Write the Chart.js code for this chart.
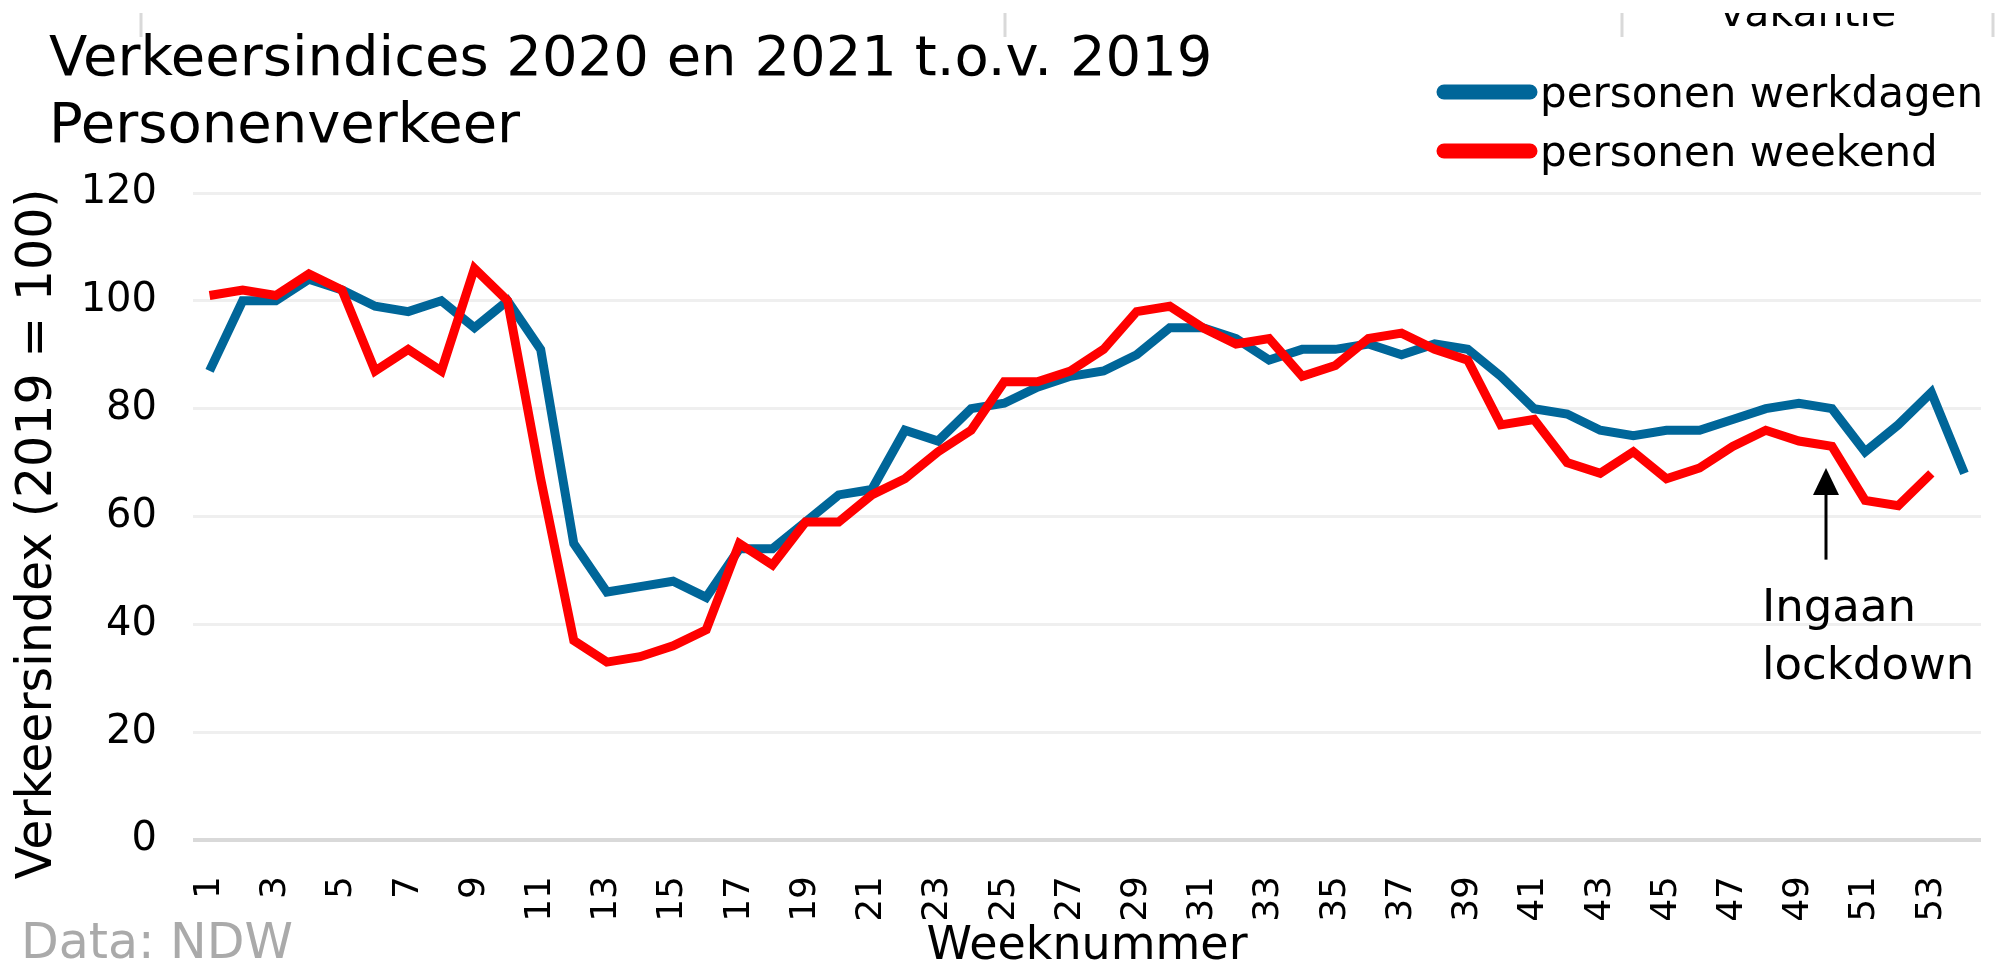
<!DOCTYPE html>
<html>
<head>
<meta charset="utf-8">
<title>Verkeersindices 2020 en 2021</title>
<script src="https://cdn.jsdelivr.net/npm/chart.js@4.4.1/dist/chart.umd.min.js"></script>
<style>
  html, body { margin: 0; padding: 0; background: #fff; }
  #chart { display: block; }
</style>
</head>
<body>
<canvas id="chart" width="1995" height="977"></canvas>
<script>
/* Verkeersindices personenverkeer, 2019 = 100 */
const weeks = [1,2,3,4,5,6,7,8,9,10,11,12,13,14,15,16,17,18,19,20,21,22,23,24,25,26,27,
  28,29,30,31,32,33,34,35,36,37,38,39,40,41,42,43,44,45,46,47,48,49,50,51,52,53,54];
const werkdagen = [87,100,100,104,102,99,98,100,95,100,91,55,46,47,48,45,54,54,59,64,65,76,74,80,81,84,86,
  87,90,95,95,93,89,91,91,92,90,92,91,86,80,79,76,75,76,76,78,80,81,80,72,77,83,68];
const weekend = [101,102,101,105,102,87,91,87,106,100,67,37,33,34,36,39,55,51,59,59,64,67,72,76,85,85,87,
  91,98,99,95,92,93,86,88,93,94,91,89,77,78,70,68,72,67,69,73,76,74,73,63,62,68,null];
const yTicks = [0, 20, 40, 60, 80, 100, 120];

const FONT = '"DejaVu Sans", Verdana, sans-serif';
const BLUE = '#006699';
const RED = '#ff0000';
const lockdownWeek = 50;

const extras = {
  id: 'extras',
  beforeDraw(chart) {
    const ctx = chart.ctx;
    ctx.save();
    ctx.fillStyle = '#fff';
    ctx.fillRect(0, 0, chart.width, chart.height);
    ctx.restore();
  },
  afterDraw(chart) {
    const ctx = chart.ctx;
    const xs = chart.scales.x, ys = chart.scales.y;
    ctx.save();

    // remnants of the header above the chart
    ctx.strokeStyle = '#d9d9d9';
    ctx.lineWidth = 3;
    [141, 1005, 1622, 1993].forEach(x => {
      ctx.beginPath(); ctx.moveTo(x, 13); ctx.lineTo(x, 37); ctx.stroke();
    });
    ctx.save();
    ctx.beginPath(); ctx.rect(0, 13, chart.width, 40); ctx.clip();
    ctx.fillStyle = '#000';
    ctx.font = '41px ' + FONT;
    ctx.textBaseline = 'alphabetic';
    ctx.fillText('vakantie', 1720, 26);
    ctx.restore();

    // title
    ctx.fillStyle = '#000';
    ctx.font = '56px ' + FONT;
    ctx.textAlign = 'left';
    ctx.fillText('Verkeersindices 2020 en 2021 t.o.v. 2019', 49, 75);
    ctx.fillText('Personenverkeer', 49, 142);

    // legend
    ctx.font = '42px ' + FONT;
    chart.data.datasets.forEach((ds, i) => {
      const cy = 92 + i * 59;
      ctx.strokeStyle = ds.borderColor;
      ctx.lineWidth = 15;
      ctx.lineCap = 'round';
      ctx.beginPath(); ctx.moveTo(1444, cy); ctx.lineTo(1530, cy); ctx.stroke();
      ctx.fillStyle = '#000';
      ctx.fillText(ds.label, 1540, cy + 15);
    });

    // y axis title
    ctx.save();
    ctx.translate(38, 534);
    ctx.rotate(-Math.PI / 2);
    ctx.font = '49px ' + FONT;
    ctx.textAlign = 'center';
    ctx.textBaseline = 'middle';
    ctx.fillText('Verkeersindex (2019 = 100)', 0, 0);
    ctx.restore();

    // source
    ctx.fillStyle = '#aaaaaa';
    ctx.font = '49px ' + FONT;
    ctx.textAlign = 'left';
    ctx.fillText('Data: NDW', 21, 958);

    // lockdown arrow
    const ax = xs.getPixelForValue(weeks.indexOf(lockdownWeek)) - 6;
    const tip = ys.getPixelForValue(69);
    const foot = ys.getPixelForValue(52);
    ctx.strokeStyle = '#000';
    ctx.lineWidth = 3;
    ctx.lineCap = 'butt';
    ctx.beginPath(); ctx.moveTo(ax, foot); ctx.lineTo(ax, tip + 20); ctx.stroke();
    ctx.fillStyle = '#000';
    ctx.beginPath();
    ctx.moveTo(ax, tip); ctx.lineTo(ax - 13, tip + 27); ctx.lineTo(ax + 13, tip + 27);
    ctx.closePath(); ctx.fill();
    ctx.font = '45px ' + FONT;
    ctx.fillText('Ingaan', ax - 64, foot + 61);
    ctx.fillText('lockdown', ax - 64, foot + 119);

    ctx.restore();
  }
};

new Chart(document.getElementById('chart'), {
  type: 'line',
  data: {
    labels: weeks,
    datasets: [
      { label: 'personen werkdagen', data: werkdagen, borderColor: BLUE, backgroundColor: BLUE,
        borderWidth: 9, pointRadius: 0, tension: 0, order: 2 },
      { label: 'personen weekend', data: weekend, borderColor: RED, backgroundColor: RED,
        borderWidth: 9, pointRadius: 0, tension: 0, order: 1 }
    ]
  },
  options: {
    responsive: false,
    devicePixelRatio: 1,
    animation: false,
    layout: { padding: { top: 193, right: 14, bottom: 0, left: 0 } },
    plugins: { legend: { display: false }, title: { display: false }, tooltip: { enabled: false } },
    scales: {
      x: {
        offset: true,
        grid: { display: false, offset: true },
        border: { display: false },
        ticks: {
          autoSkip: false, minRotation: 90, maxRotation: 90, padding: 28,
          color: '#000', font: { family: FONT, size: 36 },
          callback: (v, i) => (i % 2 === 0 ? weeks[i] : '')
        },
        title: { display: true, text: 'Weeknummer', color: '#000',
          font: { family: FONT, size: 46 }, padding: { top: 0, bottom: 2 } },
        afterFit: s => { s.height = 137; s.paddingLeft = 0; s.paddingRight = 0; }
      },
      y: {
        min: 0, max: 120,
        afterBuildTicks: s => { s.ticks = yTicks.map(v => ({ value: v })); },
        border: { display: false },
        grid: {
          drawTicks: false,
          color: c => (c.tick.value === 0 ? '#d9d9d9' : '#efefef'),
          lineWidth: c => (c.tick.value === 0 ? 4 : 3)
        },
        ticks: { padding: 36, color: '#000', font: { family: FONT, size: 40 } },
        afterFit: s => { s.width = 193; s.paddingTop = 0; s.paddingBottom = 0; }
      }
    }
  },
  plugins: [extras]
});
</script>
</body>
</html>
